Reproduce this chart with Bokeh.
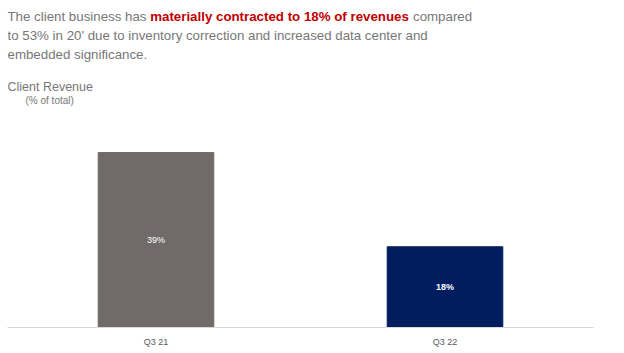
from bokeh.plotting import figure
from bokeh.models import ColumnDataSource, Label, LabelSet, FactorRange
from bokeh.core.properties import value
from bokeh.embed import file_html
from bokeh.resources import INLINE

categories = ["Q3 21", "Q3 22"]
values = [39, 18]
value_labels = ["39%", "18%"]
bar_colors = ["#706b69", "#001e5f"]
label_styles = ["normal", "bold"]

W, H = 624, 353
LEFT, BOTTOM, RIGHT = 7, 26, 31
p = figure(width=W, height=H, output_backend="svg", toolbar_location=None,
           x_range=FactorRange(factors=categories, range_padding=0.01384, range_padding_units="absolute"),
           y_range=(0, 72.9),
           min_border_left=LEFT, min_border_right=RIGHT, min_border_top=0, min_border_bottom=BOTTOM)
p.outline_line_color = None
p.background_fill_color = "white"
p.border_fill_color = "white"
p.xgrid.grid_line_color = None
p.ygrid.grid_line_color = None
p.yaxis.visible = False
p.xaxis.axis_line_color = "#d9d9d9"
p.xaxis.major_tick_line_color = None
p.xaxis.minor_tick_line_color = None
p.xaxis.major_label_text_font = "Liberation Sans"
p.xaxis.major_label_text_font_size = "9px"
p.xaxis.major_label_text_color = "#595959"
p.xaxis.major_label_standoff = 3

src = ColumnDataSource(dict(cat=categories, val=values, mid=[v / 2 for v in values],
                            lab=value_labels, color=bar_colors, style=label_styles))
p.vbar(x="cat", top="val", width=0.4, color="color", source=src)
p.add_layout(LabelSet(x="cat", y="mid", text="lab", source=src, text_color="white",
                      text_font_size=value("9px"), text_font=value("Liberation Sans"),
                      text_font_style="style",
                      text_align="center", text_baseline="middle"))

gray = "#777777"
fs = "13.3px"
frame_bottom = H - BOTTOM
def lab(x, top, text, color=gray, style="normal", size=fs):
    p.add_layout(Label(x=x - LEFT, y=frame_bottom - top, x_units="screen", y_units="screen", text=text,
                       text_color=color, text_font_style=style, text_font_size=size,
                       text_font="Liberation Sans", text_baseline="top"))

lab(7, 8, "The client business has")
lab(149.7, 8, "materially contracted to 18% of revenues", color="#c00000", style="bold")
lab(412.5, 8, "compared")
lab(7, 27.5, "to 53% in 20' due to inventory correction and increased data center and")
lab(7, 46, "embedded significance.")
lab(7, 79, "Client Revenue", size="12.5px")
lab(25, 94, "(% of total)", size="10px")

open("out.html", "w").write(file_html(p, INLINE))
